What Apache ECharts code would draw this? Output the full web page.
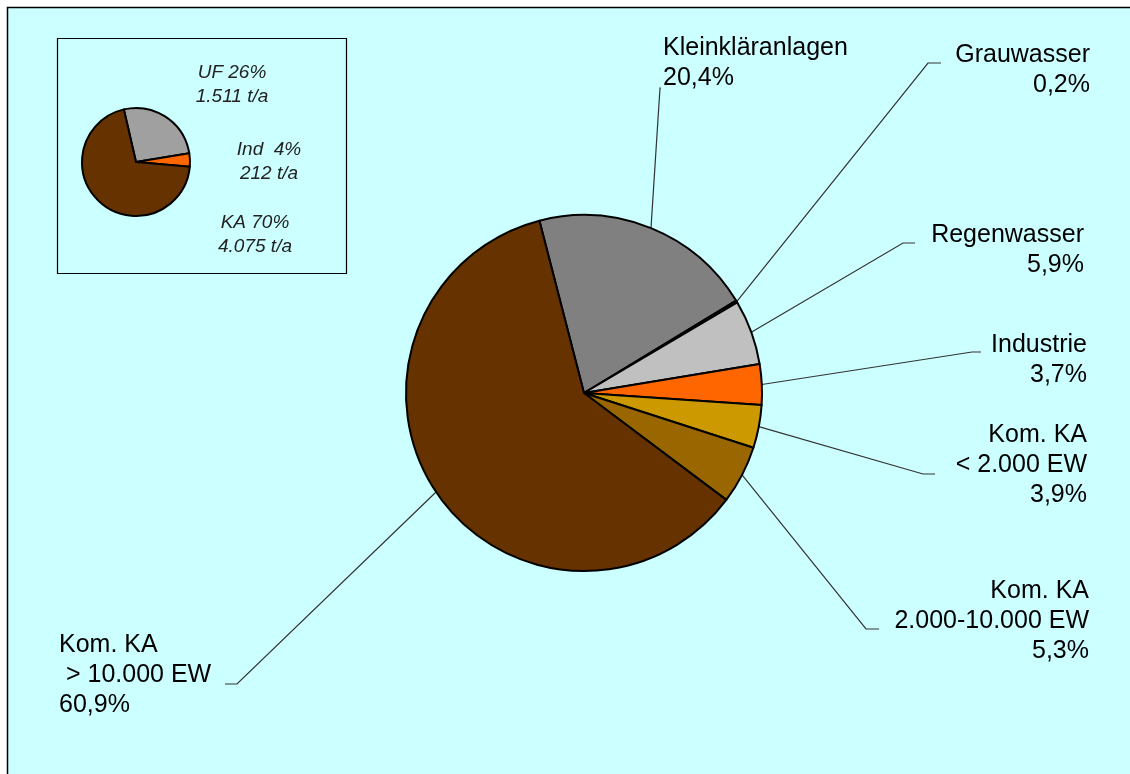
<!DOCTYPE html>
<html>
<head>
<meta charset="utf-8">
<title>Herkunft</title>
<script src="https://cdn.jsdelivr.net/npm/echarts@6/dist/echarts.min.js"></script>
<style>
  html, body { margin: 0; padding: 0; background: #ffffff; }
  #main { width: 1130px; height: 774px; }
</style>
</head>
<body>
<div id="main"></div>
<script>
// Hauptdiagramm: Anteile der Quellen (%)
var categories = ['Kleinkläranlagen', 'Grauwasser', 'Regenwasser', 'Industrie',
    'Kom. KA\n< 2.000 EW', 'Kom. KA\n2.000-10.000 EW', 'Kom. KA\n > 10.000 EW'];
var shares = [20.4, 0.2, 5.9, 3.7, 3.9, 5.3, 60.9];

// kleines Diagramm oben links
var insetNames = ['UF', 'Ind', 'KA'];
var insetShares = [26, 4, 70];
var insetTonnes = [1511, 212, 4075];

var sliceColors = ['#808080', '#1a1a1a', '#c0c0c0', '#ff6600', '#cc9900', '#996600', '#663300'];
var insetColors = ['#a0a0a0', '#ff6600', '#663300'];

// Textpositionen der Beschriftungen (Mitte des Textblocks) und Knick der Linie
var labelPos = [
    {x: 663, y: 63, align: 'left', bend: [660, 88], end: [661, 88]},
    {x: 1090, y: 70, align: 'right', bend: [928, 63], end: [941, 63]},
    {x: 1084, y: 250, align: 'right', bend: [903, 243], end: [915, 243]},
    {x: 1087, y: 360, align: 'right', bend: [972, 352], end: [981, 352]},
    {x: 1087, y: 465, align: 'right', bend: [923, 474], end: [935, 474]},
    {x: 1089, y: 621, align: 'right', bend: [866, 629], end: [879, 629]},
    {x: 59, y: 675, align: 'left', bend: [237, 684], end: [225, 684]}
];
var insetLabelPos = [
    {x: 232, y: 85},
    {x: 269, y: 162},
    {x: 255, y: 235}
];

var FONT = 'Arial, "Liberation Sans", sans-serif';

function pctText(v) {
    return v.toFixed(1).replace('.', ',') + '%';
}
function tonnesText(v) {
    return String(v).replace(/\B(?=(\d{3})+(?!\d))/g, '.');
}

var mainData = categories.map(function (name, i) {
    return {name: name, value: shares[i], itemStyle: {color: sliceColors[i]}};
});
var insetData = insetNames.map(function (name, i) {
    return {name: name, value: insetShares[i], tonnes: insetTonnes[i], itemStyle: {color: insetColors[i]}};
});

var chart = echarts.init(document.getElementById('main'), null, {renderer: 'canvas'});

var option = {
    backgroundColor: '#ffffff',
    animation: false,
    graphic: [
        {
            type: 'rect', z: -10, silent: true,
            shape: {x: 7.5, y: 7.5, width: 1140, height: 780},
            style: {fill: '#ccffff', stroke: '#000000', lineWidth: 1.5}
        },
        {
            type: 'rect', z: -9, silent: true,
            shape: {x: 57.5, y: 38.5, width: 289, height: 235},
            style: {fill: 'none', stroke: '#000000', lineWidth: 1.2}
        }
    ],
    series: [
        {
            name: 'Quellen',
            type: 'pie',
            center: [584, 393],
            radius: 178,
            startAngle: 104.5,
            clockwise: true,
            avoidLabelOverlap: false,
            silent: true,
            itemStyle: {borderColor: '#000000', borderWidth: 2},
            label: {
                show: true,
                position: 'outside',
                fontFamily: FONT,
                fontSize: 25,
                lineHeight: 30,
                color: '#000000',
                formatter: function (p) {
                    return p.name + '\n' + pctText(p.value);
                }
            },
            labelLine: {
                show: true,
                length: 20,
                length2: 10,
                lineStyle: {color: '#333333', width: 1.2}
            },
            labelLayout: function (params) {
                var lp = labelPos[params.dataIndex];
                var start = params.labelLinePoints ? params.labelLinePoints[0] : lp.bend;
                return {
                    x: lp.x,
                    y: lp.y,
                    align: lp.align,
                    verticalAlign: 'middle',
                    labelLinePoints: [start, lp.bend, lp.end]
                };
            },
            emphasis: {disabled: true},
            data: mainData
        },
        {
            name: 'Übersicht',
            type: 'pie',
            center: [136, 162],
            radius: 54,
            startAngle: 103,
            clockwise: true,
            avoidLabelOverlap: false,
            silent: true,
            itemStyle: {borderColor: '#000000', borderWidth: 2},
            label: {
                show: true,
                position: 'outside',
                fontFamily: FONT,
                fontStyle: 'italic',
                fontSize: 19,
                lineHeight: 24,
                color: '#222222',
                align: 'center',
                formatter: function (p) {
                    var pad = p.value < 10 ? '  ' : ' ';
                    return p.name + pad + p.value + '%\n' + tonnesText(p.data.tonnes) + ' t/a';
                }
            },
            labelLine: {show: false},
            labelLayout: function (params) {
                var lp = insetLabelPos[params.dataIndex];
                return {x: lp.x, y: lp.y, align: 'center', verticalAlign: 'middle'};
            },
            emphasis: {disabled: true},
            data: insetData
        }
    ]
};

chart.setOption(option);
</script>
</body>
</html>
